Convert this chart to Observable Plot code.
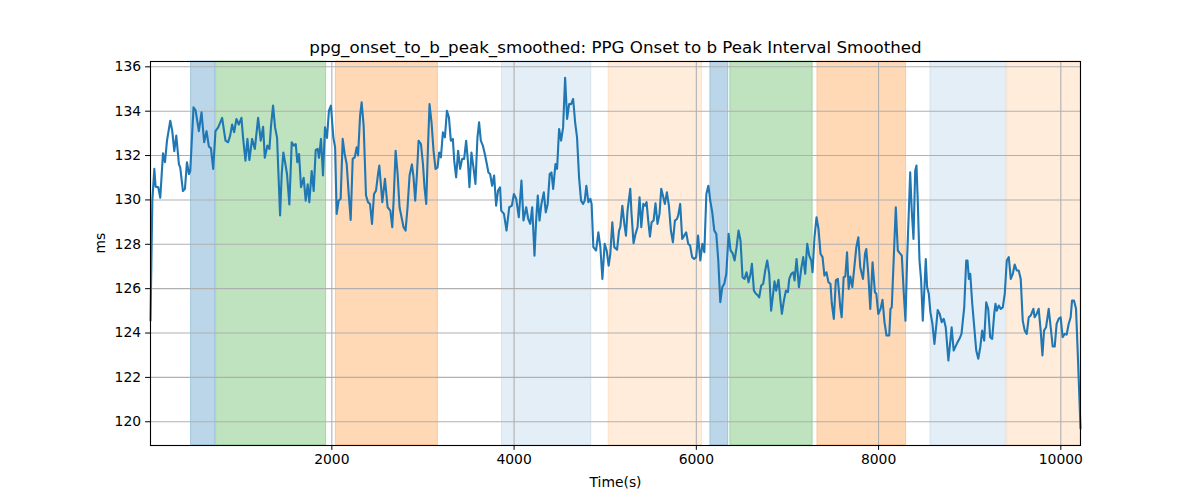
<!DOCTYPE html>
<html><head><meta charset="utf-8">
<script src="https://cdn.jsdelivr.net/npm/d3@7"></script>
<script src="https://cdn.jsdelivr.net/npm/@observablehq/plot@0.6"></script>
<style>body{margin:0;background:#fff}</style>
</head><body><div id="chart"></div>
<script>
const chartTitle = "ppg_onset_to_b_peak_smoothed: PPG Onset to b Peak Interval Smoothed";
const xLabel = "Time(s)";
const yLabel = "ms";
const xTicks = [2000, 4000, 6000, 8000, 10000];
const yTicks = [120, 122, 124, 126, 128, 130, 132, 134, 136];

// [time, ms]
const series = [
[10,124.56],[30,129.97],[52,131.4],[66,130.6],[95,130.57],[117,130.1],[147,132.1],[169,131.7],[191,132.67],[227,133.57],
[249,133.1],[271,132.2],[293,132.9],[322,131.6],[336,131.47],[366,130.4],[388,130.5],[410,131.7],[432,131.17],[446,131.3],
[482,134.17],[504,134.05],[541,133.1],[570,133.95],[599,132.6],[625,133.1],[651,132.4],[673,132.34],[698,131.4],[723,133.1],
[753,133.27],[796,133.7],[833,132.67],[862,132.6],[884,132.9],[906,133.4],[928,133.05],[953,133.65],[979,133.4],[1008,133.7],
[1026,132.8],[1052,131.77],[1074,132.75],[1095,131.8],[1125,132.75],[1155,132.3],[1191,133.7],[1220,132.67],[1246,133.3],[1264,131.9],
[1293,132.45],[1315,132.3],[1333,133.35],[1355,134.25],[1377,133.27],[1399,132.8],[1413,131.3],[1432,129.3],[1450,131.17],[1468,132.14],
[1487,131.7],[1508,131.17],[1534,129.8],[1560,132.6],[1582,132.45],[1604,132.52],[1621,131.7],[1640,132.07],[1662,130.57],[1691,131.0],
[1713,129.97],[1735,130.7],[1753,129.9],[1779,131.3],[1801,130.4],[1823,132.25],[1845,132.3],[1859,131.9],[1881,132.75],[1903,131.1],
[1925,133.27],[1947,132.8],[1968,134.02],[1990,134.25],[2017,132.8],[2036,132.37],[2053,129.37],[2075,129.97],[2097,130.05],[2119,132.75],
[2141,132.07],[2163,131.62],[2185,130.27],[2207,129.1],[2229,131.85],[2251,131.92],[2272,132.37],[2288,132.0],[2310,133.8],[2327,134.4],
[2349,133.35],[2375,130.2],[2397,129.9],[2419,129.82],[2441,128.92],[2463,130.27],[2485,130.42],[2507,131.17],[2521,131.55],[2554,129.9],
[2583,130.95],[2612,129.67],[2642,129.52],[2663,128.77],[2678,129.97],[2700,132.22],[2722,131.17],[2743,129.67],[2765,129.22],[2787,128.77],
[2809,128.62],[2831,129.67],[2853,131.1],[2879,131.6],[2897,131.0],[2915,129.97],[2934,131.17],[2952,132.67],[2978,132.52],[3000,131.62],
[3017,130.57],[3036,129.82],[3055,132.37],[3072,134.32],[3094,133.5],[3116,132.22],[3138,131.4],[3160,131.47],[3178,132.14],[3197,131.92],
[3219,133.05],[3241,132.82],[3263,134.02],[3285,133.72],[3306,132.67],[3328,132.75],[3343,131.77],[3364,131.02],[3386,132.22],[3408,131.4],
[3430,131.85],[3452,131.85],[3474,132.67],[3493,131.77],[3510,130.57],[3532,132.14],[3554,131.47],[3576,130.72],[3598,132.82],[3616,133.5],
[3635,132.67],[3657,132.45],[3679,132.07],[3701,131.62],[3718,131.24],[3737,131.17],[3759,130.64],[3781,131.1],[3803,129.74],[3824,130.42],
[3846,130.57],[3859,129.52],[3889,129.37],[3917,128.62],[3947,129.67],[3976,129.74],[3998,130.27],[4023,130.05],[4052,129.22],[4081,130.87],
[4103,129.07],[4133,129.67],[4155,129.15],[4177,128.92],[4199,129.67],[4224,127.49],[4242,129.07],[4260,130.2],[4279,129.07],[4300,129.82],
[4326,130.34],[4348,129.44],[4369,129.82],[4391,131.17],[4410,131.24],[4429,130.5],[4454,131.62],[4472,131.4],[4494,133.2],[4516,132.67],
[4538,133.27],[4560,135.5],[4582,133.65],[4604,134.32],[4626,134.32],[4648,134.55],[4670,133.5],[4691,132.82],[4713,131.02],[4735,129.97],
[4757,129.82],[4775,129.97],[4793,130.64],[4815,129.9],[4837,130.05],[4851,129.82],[4870,127.87],[4900,127.72],[4925,128.54],[4947,127.87],
[4969,126.44],[4994,128.02],[5016,127.72],[5038,127.04],[5056,127.57],[5078,128.99],[5100,127.87],[5130,127.75],[5152,128.62],[5166,128.77],
[5188,129.74],[5210,128.92],[5228,128.39],[5245,129.52],[5275,130.5],[5289,129.37],[5311,128.05],[5333,128.47],[5355,128.77],[5377,130.12],
[5396,128.77],[5418,129.82],[5436,129.74],[5454,129.9],[5472,129.07],[5491,128.35],[5509,128.99],[5531,129.07],[5552,129.85],[5574,128.92],
[5596,129.37],[5615,130.5],[5633,130.2],[5655,129.82],[5677,130.34],[5699,129.74],[5721,128.62],[5743,128.09],[5765,129.07],[5787,129.14],
[5801,129.3],[5823,129.82],[5845,128.24],[5867,128.39],[5889,128.54],[5911,128.02],[5932,127.94],[5954,127.42],[5976,127.34],[5998,127.42],
[6019,128.39],[6044,127.27],[6066,128.02],[6088,127.64],[6110,130.27],[6132,130.64],[6153,129.97],[6175,129.44],[6197,128.62],[6219,128.47],
[6241,127.27],[6263,125.39],[6285,126.07],[6307,126.22],[6329,126.67],[6354,128.47],[6376,127.72],[6398,127.6],[6420,127.27],[6442,127.87],
[6463,128.62],[6485,128.17],[6507,126.52],[6529,126.44],[6551,126.74],[6573,126.29],[6595,126.67],[6610,127.12],[6632,125.91],[6654,125.77],
[6676,125.69],[6690,125.61],[6712,126.14],[6734,126.22],[6756,126.82],[6778,127.27],[6800,126.67],[6821,125.01],[6843,125.77],[6858,126.33],
[6876,125.91],[6902,126.4],[6923,125.46],[6939,124.86],[6961,125.46],[6983,125.91],[7005,125.84],[7020,126.44],[7042,126.67],[7064,126.74],
[7078,126.37],[7100,127.34],[7126,126.07],[7151,126.89],[7173,127.42],[7195,126.67],[7217,128.02],[7239,127.49],[7261,127.27],[7275,126.74],
[7297,128.32],[7319,129.22],[7341,128.69],[7363,127.57],[7385,127.42],[7406,126.59],[7428,126.74],[7450,126.29],[7472,126.22],[7487,125.32],
[7509,124.64],[7531,126.37],[7553,126.44],[7580,125.16],[7595,124.71],[7617,126.52],[7635,126.55],[7654,127.64],[7672,125.99],[7690,126.55],
[7712,126.07],[7734,126.96],[7756,127.87],[7778,128.32],[7799,126.96],[7829,126.44],[7851,127.57],[7865,127.79],[7887,126.67],[7909,125.09],
[7934,127.19],[7960,125.84],[7975,125.77],[7997,124.86],[8022,125.09],[8043,125.5],[8065,124.49],[8087,123.89],[8117,123.89],[8131,125.09],
[8145,125.16],[8167,127.42],[8189,129.67],[8211,127.72],[8233,127.6],[8255,127.49],[8277,125.77],[8295,124.56],[8314,127.42],[8331,129.37],
[8347,131.24],[8364,129.52],[8383,128.24],[8402,131.32],[8416,131.55],[8430,129.97],[8449,127.27],[8467,126.37],[8485,124.56],[8504,126.07],
[8518,127.34],[8533,126.07],[8551,125.77],[8569,124.94],[8591,124.41],[8613,123.51],[8635,124.41],[8649,125.04],[8671,124.86],[8693,124.49],
[8715,124.64],[8737,124.26],[8766,122.76],[8788,123.66],[8802,124.26],[8824,123.21],[8867,123.59],[8888,123.74],[8910,123.96],[8925,124.56],
[8940,125.16],[8962,127.27],[8976,127.27],[8991,126.44],[9006,126.67],[9028,125.32],[9050,124.26],[9072,123.21],[9094,122.84],[9116,123.36],
[9137,124.11],[9159,123.66],[9181,125.39],[9203,125.09],[9225,123.81],[9247,123.74],[9269,124.86],[9283,125.32],[9297,125.01],[9319,125.24],
[9341,125.09],[9363,125.16],[9385,125.77],[9407,127.27],[9429,127.42],[9451,126.44],[9473,126.67],[9494,127.09],[9516,126.82],[9538,126.82],
[9560,126.44],[9582,124.56],[9604,124.11],[9626,123.96],[9648,124.71],[9670,124.79],[9699,125.09],[9713,124.71],[9735,124.86],[9757,125.09],
[9779,124.11],[9798,122.99],[9816,124.11],[9838,124.26],[9867,125.09],[9889,124.26],[9911,123.39],[9933,123.39],[9954,124.41],[9976,124.64],
[9998,124.71],[10020,123.81],[10042,123.96],[10064,123.93],[10086,124.41],[10108,124.71],[10123,125.46],[10145,125.46],[10167,125.09],[10189,122.76],
[10216,119.7]
];

const bandStart = [455, 730, 2044, 3867, 5037, 6154, 6373, 7329, 8569, 9412];
const bandEnd   = [719, 1937, 3164, 4847, 6063, 6351, 7277, 8302, 9401, 10216];
const bandKind  = ["blue", "green", "orange", "blueLight", "orangeLight", "blue", "green", "orange", "blueLight", "orangeLight"];

const bandStyles = {
  blue: {color: "#1f77b4", opacity: 0.3},
  green: {color: "#2ca02c", opacity: 0.3},
  orange: {color: "#ff7f0e", opacity: 0.3},
  blueLight: {color: "#1f77b4", opacity: 0.12},
  orangeLight: {color: "#ff7f0e", opacity: 0.15}
};

const bands = bandStart.map((s, i) => ({start: s, end: bandEnd[i], kind: bandKind[i]}));
const data = series.map(([t, v]) => ({t, v}));

const font = "DejaVu Sans, sans-serif";
const gridStyle = {stroke: "#b0b0b0", strokeOpacity: 1, strokeWidth: 1.1};

const bandMarks = Object.entries(bandStyles).map(([k, s]) =>
  Plot.rect(bands.filter(b => b.kind === k), {
    x1: "start", x2: "end",
    fill: s.color, fillOpacity: s.opacity,
    stroke: s.color, strokeOpacity: s.opacity, strokeWidth: 1
  })
);

const chart = Plot.plot({
  width: 1200,
  height: 500,
  marginLeft: 150,
  marginRight: 120,
  marginTop: 61,
  marginBottom: 55,
  x: {domain: [10, 10216]},
  y: {domain: [118.93, 136.24]},
  style: {fontFamily: font, fontSize: "13.9px", color: "black", background: "white"},
  marks: [
    ...bandMarks,
    Plot.gridX(xTicks, gridStyle),
    Plot.gridY(yTicks, gridStyle),
    Plot.line(data, {x: "t", y: "v", stroke: "#1f77b4", strokeWidth: 2.1}),
    Plot.frame({stroke: "black", strokeWidth: 1.1}),
    Plot.axisX(xTicks, {tickSize: 4.9, tickPadding: 3.5, tickFormat: d => String(d), label: null, fontSize: 13.9, stroke: "black"}),
    Plot.axisY(yTicks, {tickSize: 4.9, tickPadding: 4.5, tickFormat: d => String(d), label: null, fontSize: 13.9, stroke: "black"}),
    Plot.text([chartTitle], {text: d => d, frameAnchor: "top", lineAnchor: "bottom", dy: -9, fontSize: 16.7, fill: "black"}),
    Plot.text([xLabel], {text: d => d, frameAnchor: "bottom", lineAnchor: "bottom", dy: 41, fontSize: 13.9, fill: "black"}),
    Plot.text([yLabel], {text: d => d, frameAnchor: "left", lineAnchor: "bottom", rotate: -90, dx: -46, fontSize: 13.9, fill: "black"})
  ]
});
document.getElementById("chart").appendChild(chart);
</script>
</body></html>
